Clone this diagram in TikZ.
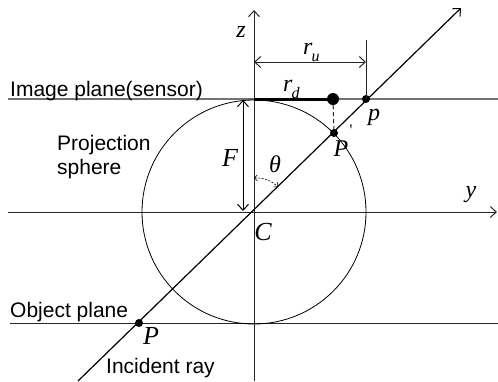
\documentclass[tikz,border=0pt]{standalone}
\usepackage{fontspec}
\setmainfont{Liberation Sans}
\newfontfamily\tms{Liberation Serif}
\usetikzlibrary{arrows.meta}
\newcommand{\subsc}[1]{\raisebox{-7pt}{\fontsize{16}{16}\selectfont\tms\itshape #1}}
\begin{document}
\begin{tikzpicture}[x=1pt,y=-1pt,
  sans/.style={font=\fontsize{21}{24}\selectfont, inner sep=0pt},
  lbl/.style={font=\fontsize{24}{26}\selectfont\tms\itshape, inner sep=0pt},
  lblbig/.style={font=\fontsize{26}{28}\selectfont\tms\itshape, inner sep=0pt},
  ln/.style={line width=1pt, draw=black!85},
  barb/.style={-{Straight Barb[length=6pt,width=11pt,line width=1pt]}},
  dbarb/.style={{Straight Barb[length=6pt,width=11pt,line width=1pt]}-{Straight Barb[length=6pt,width=11pt,line width=1pt]}},
  dotsm/.style={circle, fill=black, inner sep=0pt, minimum size=8pt},
  dotbig/.style={circle, fill=black, inner sep=0pt, minimum size=12pt}]
\useasboundingbox (0,0) rectangle (498,381);
% coordinates
\coordinate (C) at (254,212);
\coordinate (ipL) at (8,99);
\coordinate (ipR) at (498,99);
\coordinate (opL) at (10,323);
\coordinate (opR) at (498,323);
\coordinate (yL) at (8,212);
\coordinate (yR) at (497,212);
\coordinate (zB) at (254,381);
\coordinate (zT) at (254,10);
\coordinate (rayB) at (78,381);
\coordinate (rayT) at (461,8);
\coordinate (O) at (254,99);
\coordinate (ruL) at (254,62);
\coordinate (ruR) at (366,62);
\coordinate (vtop) at (366,40);
\coordinate (thA) at (254,178);
\coordinate (thB) at (278,187);
\coordinate (FA) at (243,100);
\coordinate (FB) at (243,211);
% planes and axes
\draw[line width=1.6pt, draw=black!55] (ipL) -- (ipR);
\draw[ln] (opL) -- (opR);
\draw[ln, barb] (yL) -- (yR);
\draw[ln, barb] (zB) -- (zT);
\draw[line width=0.8pt] (C) circle (112);
\draw[line width=1.2pt, barb] (rayB) -- (rayT);
% points
\node[dotsm] (p) at (366,99) {};
\node[dotbig] (rd) at (333,99) {};
\node[dotsm] (Pp) at (334,133) {};
\node[dotsm] (P) at (139,323) {};
\draw[line width=3pt] (O) -- (rd.center);
\draw[ln, dashed, dash pattern=on 4pt off 3pt] (rd) -- (Pp);
\draw[ln] (vtop) -- (p.center);
\draw[ln, dbarb] (ruL) -- (ruR);
\draw[line width=1pt, dbarb] (FA) -- (FB);
\draw[line width=0.6pt, dashed, dash pattern=on 2pt off 1.5pt,
  {Straight Barb[length=3pt,width=6pt]}-{Straight Barb[length=3pt,width=6pt]}]
  (thA) to[bend left=22] (thB);
% texts
\node[sans, anchor=base west] (t1) at (10,96) {Image plane(sensor)};
\node[sans, anchor=base west] (t2) at (57,150) {Projection};
\node[sans, anchor=base west] (t3) at (57,174) {sphere};
\node[sans, anchor=base west] (t4) at (10,317) {Object plane};
\node[sans, anchor=base west] (t5) at (106,373) {Incident ray};
% labels
\node[lbl] (lz) at (241,32) {z};
\node[lbl] (ly) at (471,195) {y};
\node[lblbig] (lF) at (230,158) {F};
\node[lbl] (lth) at (275,164) {θ};
\node[lblbig] (lC) at (263,232) {C};
\node[lblbig] (lP) at (151,336) {P};
\node[lbl] (lp) at (374,117) {p};
\node[lbl] (lPp) at (341,149) {P};
\node[lbl, font=\fontsize{16}{16}\selectfont\tms] (prime) at (351,130) {'};
\node[lbl, anchor=base west] (lru) at (303,54) {r\hspace{-1pt}\subsc{u}};
\node[lbl, anchor=base west] (lrd) at (283,91) {r\hspace{-1pt}\subsc{d}};
\end{tikzpicture}
\end{document}
